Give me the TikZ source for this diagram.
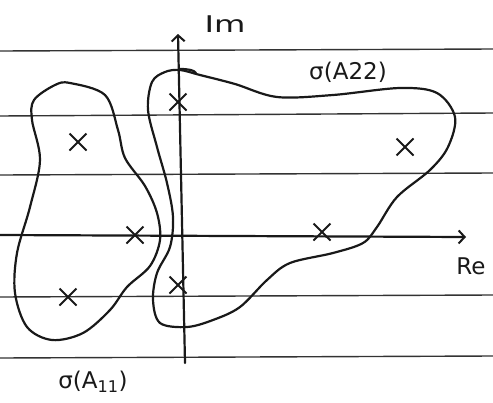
\documentclass[tikz,border=0pt]{standalone}
\usepackage{fontspec}
\setmainfont{DejaVu Sans}
\usetikzlibrary{shapes.misc,arrows.meta}
\begin{document}
\begin{tikzpicture}[x=1pt,y=-1pt,
  ink/.style={line width=2.2pt,line cap=round,line join=round,black!90},
  ruled/.style={line width=1.4pt,black!80},
  eig/.style={cross out,draw,line width=2pt,minimum size=15pt,inner sep=0pt,black!90},
  lbl/.style={font=\fontsize{23}{23}\selectfont,inner sep=0pt,black!90}]
\useasboundingbox[fill=white] (0,0) rectangle (493,402);
% ruled lines
\foreach \y/\z in {51/49,116/113,175/173,297/295,358/356}
  \draw[ruled] (0,\y) -- (493,\z);
% blobs
\draw[ink] plot[smooth cycle,tension=0.55] coordinates {
  (55,85) (70,83) (105,95) (118,130) (125,158) (145,186) (157,213) (160,240)
  (150,266) (127,287) (110,310) (83,333) (52,340) (27,327) (15,293) (17,253)
  (30,207) (40,160) (32,120) (34,100)};
\draw[ink] plot[smooth cycle,tension=0.55] coordinates {
  (152,82) (165,72) (180,70) (200,75) (235,84) (277,97) (333,95) (400,88)
  (437,93) (455,117) (448,147) (430,170) (397,197) (377,227) (363,243)
  (333,253) (290,263) (267,280) (240,307) (213,320) (187,327) (160,323)
  (153,300) (157,273) (170,247) (173,217) (167,183) (157,147) (148,110)};
\draw[ink] (180,69) .. controls (188,69) and (194,70) .. (196,73);
% axes
\coordinate (reS) at (0,235);
\coordinate (reE) at (466,237);
\coordinate (imS) at (185,363);
\coordinate (imE) at (178,34);
\draw[ink,-{Straight Barb[length=6pt,width=13pt,line width=2pt]}] (reS) -- (reE);
\draw[ink,-{Straight Barb[length=6pt,width=13pt,line width=2pt]}] (imS) -- (imE);
\node[lbl,xscale=1.4] (im) at (225,24) {Im};
\node[lbl] (re) at (471,266) {Re};
\node[lbl] (s22) at (348,72) {σ(A22)};
\node[lbl] (s11) at (93,382) {σ(A\textsubscript{11})};
% eigenvalues
\node[eig] (e1) at (78,142) {};
\node[eig] (e2) at (135,235) {};
\node[eig] (e3) at (68,297) {};
\node[eig] (e4) at (178,102) {};
\node[eig] (e5) at (178,285) {};
\node[eig] (e6) at (322,232) {};
\node[eig] (e7) at (405,147) {};
\end{tikzpicture}
\end{document}
